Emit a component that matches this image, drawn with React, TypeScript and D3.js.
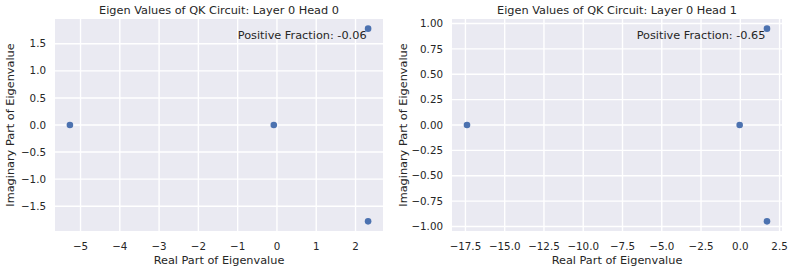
import * as D3 from 'd3'
import { useEffect, useRef } from 'react'

// eigenvalues (real / imaginary parts)
const HEAD0_REAL = [-5.27, -0.08, 2.32, 2.32]
const HEAD0_IMAG = [0, 0, 1.78, -1.78]
const HEAD1_REAL = [-17.4, -0.04, 1.7, 1.7]
const HEAD1_IMAG = [0, 0, 0.95, -0.95]

const HEAD0_XTICKS = [-5, -4, -3, -2, -1, 0, 1, 2]
const HEAD0_YTICKS = [-1.5, -1.0, -0.5, 0.0, 0.5, 1.0, 1.5]
const HEAD1_XTICKS = [-17.5, -15, -12.5, -10, -7.5, -5, -2.5, 0, 2.5]
const HEAD1_YTICKS = [-1, -0.75, -0.5, -0.25, 0, 0.25, 0.5, 0.75, 1]

const TITLES = [
  'Eigen Values of QK Circuit: Layer 0 Head 0',
  'Eigen Values of QK Circuit: Layer 0 Head 1',
]
const FRACTIONS = ['-0.06', '-0.65']

export default function App() {
  const ref = useRef<HTMLDivElement>(null)

  useEffect(() => {
    document.body.style.margin = '0'
    const width = 793
    const height = 272
    const top = 19
    const bottom = 231
    const textColor = '#262626'
    const labelSize = 11.3
    const tickSize = 10.3

    const panels = [
      {
        x0: 55, x1: 383, re: HEAD0_REAL, im: HEAD0_IMAG,
        xt: HEAD0_XTICKS, yt: HEAD0_YTICKS, xf: D3.format('d'), yf: D3.format('.1f'),
      },
      {
        x0: 452, x1: 782, re: HEAD1_REAL, im: HEAD1_IMAG,
        xt: HEAD1_XTICKS, yt: HEAD1_YTICKS, xf: D3.format('.1f'), yf: D3.format('.2f'),
      },
    ]

    const svg = D3.create('svg')
      .attr('width', width)
      .attr('height', height)
      .attr('viewBox', [0, 0, width, height])
      .attr('style', 'display:block; background:#fff; font-family:"DejaVu Sans", sans-serif;')

    // matplotlib style 5% margins
    const padded = (vals: number[]) => {
      const [lo, hi] = D3.extent(vals) as [number, number]
      const m = (hi - lo) * 0.05
      return [lo - m, hi + m]
    }

    panels.forEach((p, i) => {
      const x = D3.scaleLinear().domain(padded(p.re)).range([p.x0, p.x1])
      const y = D3.scaleLinear().domain(padded(p.im)).range([bottom, top])
      const g = svg.append('g')

      g.append('rect')
        .attr('x', p.x0)
        .attr('y', top)
        .attr('width', p.x1 - p.x0)
        .attr('height', bottom - top)
        .attr('fill', '#eaeaf2')

      /* grid */
      g.append('g')
        .selectAll()
        .data(p.xt)
        .join('line')
        .attr('x1', (d) => x(d))
        .attr('x2', (d) => x(d))
        .attr('y1', top)
        .attr('y2', bottom)
        .attr('stroke', '#fff')
        .attr('stroke-width', 1.4)
      g.append('g')
        .selectAll()
        .data(p.yt)
        .join('line')
        .attr('x1', p.x0)
        .attr('x2', p.x1)
        .attr('y1', (d) => y(d))
        .attr('y2', (d) => y(d))
        .attr('stroke', '#fff')
        .attr('stroke-width', 1.4)

      /* tick labels */
      g.append('g')
        .attr('fill', textColor)
        .attr('font-size', tickSize)
        .attr('text-anchor', 'middle')
        .selectAll()
        .data(p.xt)
        .join('text')
        .attr('x', (d) => x(d))
        .attr('y', bottom + 19)
        .text((d) => p.xf(d))
      g.append('g')
        .attr('fill', textColor)
        .attr('font-size', tickSize)
        .attr('text-anchor', 'end')
        .selectAll()
        .data(p.yt)
        .join('text')
        .attr('x', p.x0 - 9)
        .attr('y', (d) => y(d))
        .attr('dy', '0.35em')
        .text((d) => p.yf(d))

      /* points */
      g.append('g')
        .attr('fill', '#4c72b0')
        .selectAll()
        .data(p.re.map((r, k) => [r, p.im[k]]))
        .join('circle')
        .attr('cx', (d) => x(d[0]))
        .attr('cy', (d) => y(d[1]))
        .attr('r', 3.3)

      const cx = (p.x0 + p.x1) / 2
      g.append('text')
        .attr('x', cx)
        .attr('y', 14)
        .attr('text-anchor', 'middle')
        .attr('font-size', labelSize)
        .attr('fill', textColor)
        .text(TITLES[i])

      g.append('text')
        .attr('x', p.x0 + 0.95 * (p.x1 - p.x0))
        .attr('y', top + 0.05 * (bottom - top))
        .attr('dy', '0.8em')
        .attr('text-anchor', 'end')
        .attr('font-size', labelSize)
        .attr('fill', textColor)
        .text(`Positive Fraction: ${FRACTIONS[i]}`)

      g.append('text')
        .attr('x', cx)
        .attr('y', 264)
        .attr('text-anchor', 'middle')
        .attr('font-size', labelSize)
        .attr('fill', textColor)
        .text('Real Part of Eigenvalue')

      g.append('text')
        .attr('transform', `translate(${i === 0 ? 14 : 407}, ${(top + bottom) / 2}) rotate(-90)`)
        .attr('text-anchor', 'middle')
        .attr('font-size', labelSize)
        .attr('fill', textColor)
        .text('Imaginary Part of Eigenvalue')
    })

    const node = svg.node()
    if (ref.current && node) {
      ref.current.innerHTML = ''
      ref.current.appendChild(node)
    }
  }, [])

  return <div ref={ref} />
}
